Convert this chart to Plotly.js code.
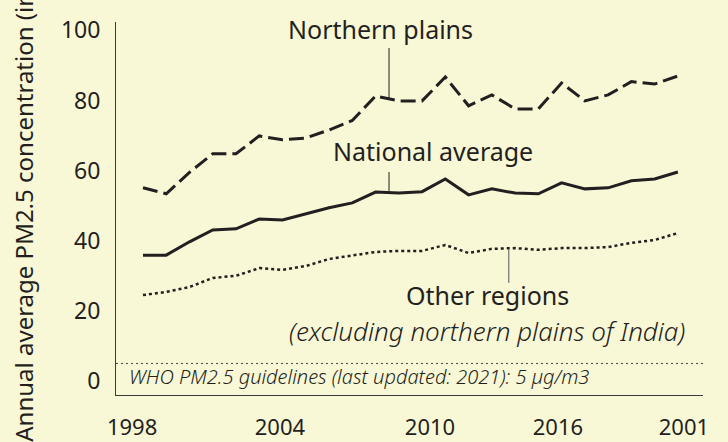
<!DOCTYPE html>
<html>
<head>
<meta charset="utf-8">
<script src="https://cdn.plot.ly/plotly-3.0.1.min.js"></script>
<style>
  html, body { margin: 0; padding: 0; background: #f8f7d6; }
  #chart { width: 728px; height: 442px; }
</style>
</head>
<body>
<div id="chart"></div>
<script>
// ---- data ----
const years = [1998,1999,2000,2001,2002,2003,2004,2005,2006,2007,2008,2009,2010,2011,2012,2013,2014,2015,2016,2017,2018,2019,2020,2021];
const northernPlains = [55.1,53.4,59.5,64.8,64.8,69.9,68.8,69.3,71.6,74.3,81.3,79.9,79.9,86.7,78.5,81.6,77.6,77.6,85.0,79.9,81.6,85.4,84.7,87.0];
const nationalAverage = [35.9,35.9,39.7,43.1,43.4,46.2,45.9,47.6,49.4,50.8,53.9,53.6,54.0,57.6,53.1,54.8,53.6,53.4,56.5,54.8,55.1,57.1,57.6,59.6];
const otherRegions = [24.5,25.4,26.8,29.4,30.0,32.2,31.7,32.8,34.8,35.9,36.8,37.1,37.1,38.8,36.5,37.7,37.9,37.4,37.9,37.9,38.2,39.4,40.2,42.2];
const whoGuideline = 5;
const xTickLabels = ['1998','2004','2010','2016','2001'];
const yTickValues = [0,20,40,60,80,100];

// ---- style / layout ----
const ink = '#231f20';
const bg = '#f8f7d6';
const font = '"Noto Sans", Lato, sans-serif';
const xTickPositions = [1997.53, 2003.89, 2010.34, 2015.84, 2021.26];

const traces = [
  {x: years, y: northernPlains, mode: 'lines', line: {color: ink, width: 3, dash: '15px,6px'}, hoverinfo: 'skip'},
  {x: years, y: nationalAverage, mode: 'lines', line: {color: ink, width: 3}, hoverinfo: 'skip'},
  {x: years, y: otherRegions, mode: 'lines', line: {color: ink, width: 2.5, dash: 'dot'}, hoverinfo: 'skip'}
];

const ann = (text, x, y, size, weight) => ({
  text: text, x: x, y: y, xref: 'x', yref: 'y', showarrow: false,
  font: {family: font, size: size || 25, color: ink, weight: weight || 400}, xanchor: 'center', yanchor: 'middle'
});

const layout = {
  width: 728, height: 442,
  paper_bgcolor: bg, plot_bgcolor: bg,
  margin: {l: 116, r: 25, t: 22, b: 47},
  showlegend: false,
  font: {family: font, color: ink},
  xaxis: {
    range: [1996.84, 2022.08], showgrid: false, zeroline: false,
    showline: true, linecolor: '#3a3a3a', linewidth: 1,
    tickmode: 'array', tickvals: xTickPositions, ticktext: xTickLabels,
    ticks: '', ticklabelstandoff: 13,
    tickfont: {family: font, size: 22, color: ink}
  },
  yaxis: {
    range: [-4, 102.4], showgrid: false, zeroline: false,
    showline: true, linecolor: '#3a3a3a', linewidth: 1,
    tickmode: 'array', tickvals: yTickValues, ticks: '', ticklabelstandoff: 10,
    tickfont: {family: font, size: 23, color: ink}
  },
  shapes: [
    {type: 'line', xref: 'paper', yref: 'y', x0: 0, x1: 1, y0: whoGuideline, y1: whoGuideline,
     line: {color: '#444', width: 1, dash: '2px,3px'}},
    {type: 'line', xref: 'x', yref: 'y', x0: 2008.58, x1: 2008.58, y0: 80.7, y1: 95, line: {color: ink, width: 1}},
    {type: 'line', xref: 'x', yref: 'y', x0: 2008.58, x1: 2008.58, y0: 54.2, y1: 59.6, line: {color: ink, width: 1}},
    {type: 'line', xref: 'x', yref: 'y', x0: 2013.73, x1: 2013.73, y0: 28, y1: 37.4, line: {color: '#555', width: 1}}
  ],
  annotations: [
    ann('Northern plains', 2008.23, 100.4),
    ann('National average', 2010.47, 65.6),
    ann('Other regions', 2012.8, 24.4),
    ann('<i>(excluding northern plains of India)</i>', 2012.8, 14.3, 26, 350),
    {text: '<i>WHO PM2.5 guidelines (last updated: 2021): 5 µg/m3</i>', xref: 'paper', yref: 'y',
     x: 0.018, y: 1.3, xanchor: 'left', yanchor: 'middle', showarrow: false,
     font: {family: font, size: 20, color: ink, weight: 350}},
    {text: 'Annual average PM2.5 concentration (in µg/m3)', xref: 'paper', yref: 'paper',
     x: -0.158, y: -0.13, xanchor: 'center', yanchor: 'bottom', textangle: -90, showarrow: false,
     font: {family: font, size: 24, color: ink}}
  ]
};

Plotly.newPlot('chart', traces, layout, {staticPlot: true, displayModeBar: false});
</script>
</body>
</html>
